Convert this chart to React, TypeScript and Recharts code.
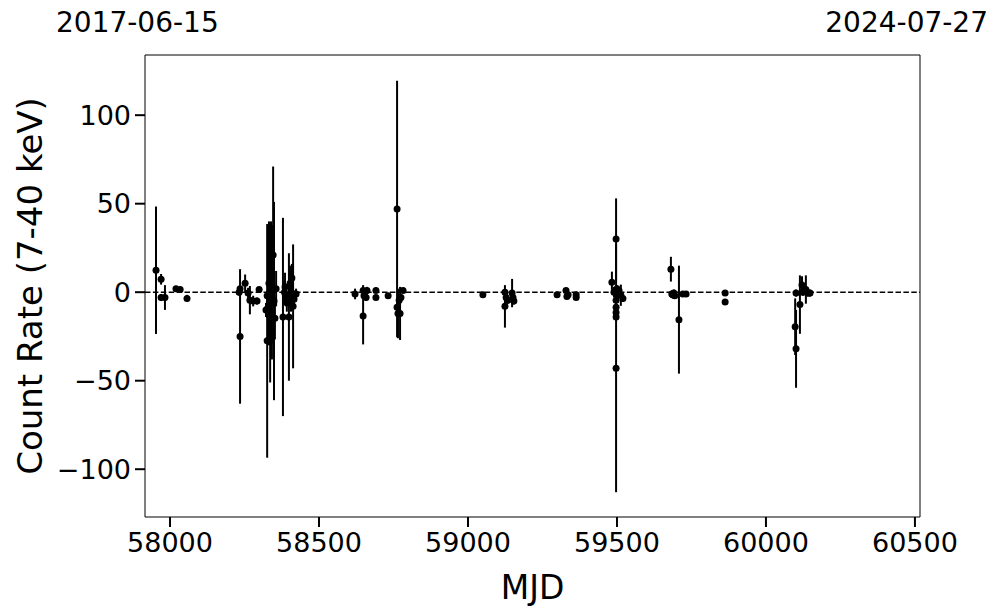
import {
  ErrorBar,
  Label,
  ReferenceLine,
  Scatter,
  ScatterChart,
  XAxis,
  YAxis,
} from 'recharts';

const START_DATE = '2017-06-15';
const END_DATE = '2024-07-27';

const MJD = [
  57953, 57970, 57970, 57983, 58020, 58034, 58057,
  58232, 58235, 58235, 58252, 58262, 58268, 58279, 58292, 58299,
  58326, 58326, 58326, 58332, 58336, 58339, 58342, 58346, 58349, 58352, 58356, 58322,
  58379, 58384, 58386, 58389, 58392, 58399, 58403, 58406, 58409, 58413, 58416, 58423,
  58621, 58648, 58648, 58651, 58654, 58658, 58661, 58691, 58691, 58732,
  58762, 58762, 58765, 58769, 58772, 58775, 58782,
  59050, 59124, 59124, 59128, 59134, 59148, 59151, 59154,
  59299, 59329, 59332, 59336, 59363, 59363,
  59483, 59490, 59497, 59497, 59497, 59497, 59497, 59497, 59500, 59503, 59507, 59513, 59520,
  59681, 59684, 59687, 59691, 59694, 59708, 59721, 59732,
  59863, 59863,
  60098, 60101, 60101, 60114, 60121, 60124, 60134, 60141, 60148,
];

const RATE = [
  12.4, 7.3, -3, -3, 2, 1.5, -3.5,
  0, -25, 2, 5, -0.5, -4.5, -5, -5, 1.5,
  -2, -9.5, -27.5, 5, -6, 10, 0, 21, -5, -14.7, 2, -10,
  -14, 0, 3, -2, -6, -14, 5, -3, 8, -8, -4, -1,
  -1, -13.5, 1, -2, 0, -3, 1, 1, -3, -2,
  47, -8.5, -12, -4.5, -12, -3, 1,
  -1.5, 0, -8, -3, -4.5, -0.5, -3, -5,
  -1.5, 1, -2.5, -1.5, -3, -1.5,
  5.6, 0, 30, -43, -4.5, -8.5, -11.5, -14, 2, -1, 1, -1.7, -3.5,
  13, -1, -1.5, -0.5, -2, -15.5, -1, -1,
  -0.5, -5.5,
  -19.5, -32, -0.5, -7, 4, 0, 1.5, -0.5, -0.5,
];

const RATE_ERR = [
  36, 3, 2, 7, 1.5, 1.5, 2,
  2, 38, 2, 5, 3, 8, 3, 2, 1,
  3, 5, 66, 35, 45, 30, 38, 50, 56, 12, 10, 4,
  56, 6, 8, 6, 5, 36, 10, 8, 8, 35, 5, 3,
  3, 16, 3, 2, 2, 2, 2, 1.5, 1.5, 1.5,
  72.5, 3, 14, 3, 15, 2, 1.5,
  1.5, 2, 12, 2, 2, 8, 2, 2,
  1, 1, 1, 1, 1, 1,
  6, 3, 23, 70, 2, 2, 2, 2, 2, 2, 2, 6, 2,
  7, 2, 2, 2, 1.5, 30.5, 1.5, 1,
  1, 1,
  16, 22, 2, 16.5, 5, 2, 8, 2, 2,
];

const X_TICKS = [58000, 58500, 59000, 59500, 60000, 60500];
const Y_TICKS = [-100, -50, 0, 50, 100];
const X_DOMAIN = [57916, 60517];
const Y_DOMAIN = [-127, 134];

const points = MJD.map((mjd, i) => ({ mjd, rate: RATE[i], err: RATE_ERR[i] }));

const FONT = '"DejaVu Sans", sans-serif';
const tickStyle = { fill: '#000', fontSize: 27, fontFamily: FONT };

const fmt = (v: number) => String(v).replace('-', '\u2212');

const Dot = (props: any) => <circle cx={props.cx} cy={props.cy} r={3.5} fill="#000" />;

export default function App() {
  return (
    <div style={{ position: 'absolute', left: 0, top: 0, width: 997, height: 613, background: '#fff', fontFamily: FONT }}>
      <div style={{ position: 'absolute', left: 56, top: 6, fontSize: 28, color: '#000' }}>{START_DATE}</div>
      <div style={{ position: 'absolute', right: 9, top: 6, fontSize: 28, color: '#000' }}>{END_DATE}</div>
      <ScatterChart width={997} height={613} margin={{ top: 55, right: 77, bottom: 0, left: 0 }}>
        <XAxis
          type="number"
          dataKey="mjd"
          domain={X_DOMAIN}
          ticks={X_TICKS}
          height={96}
          tickSize={10}
          tick={tickStyle}
          tickMargin={6}
          axisLine={{ stroke: '#000', strokeWidth: 1 }}
          tickLine={{ stroke: '#000', strokeWidth: 2 }}
          allowDataOverflow
        >
          <Label value="MJD" position="insideBottom" offset={14} style={{ fill: '#000', fontSize: 33, fontFamily: FONT }} />
        </XAxis>
        <YAxis
          type="number"
          dataKey="rate"
          domain={Y_DOMAIN}
          ticks={Y_TICKS}
          width={145}
          tickSize={10}
          tick={tickStyle}
          tickMargin={4}
          tickFormatter={fmt}
          axisLine={{ stroke: '#000', strokeWidth: 1 }}
          tickLine={{ stroke: '#000', strokeWidth: 2 }}
          allowDataOverflow
        >
          <Label
            value="Count Rate (7-40 keV)"
            angle={-90}
            position="insideLeft"
            offset={30}
            style={{ fill: '#000', fontSize: 34, fontFamily: FONT, textAnchor: 'middle' }}
          />
        </YAxis>
        <ReferenceLine y={Y_DOMAIN[1]} stroke="#000" strokeWidth={1} />
        <ReferenceLine x={X_DOMAIN[1]} stroke="#000" strokeWidth={1} />
        <ReferenceLine y={0} stroke="#000" strokeWidth={1.5} strokeDasharray="5.5 2.4" />
        <Scatter data={points} shape={Dot} isAnimationActive={false}>
          <ErrorBar dataKey="err" direction="y" width={0} stroke="#000" strokeWidth={2} />
        </Scatter>
      </ScatterChart>
    </div>
  );
}
